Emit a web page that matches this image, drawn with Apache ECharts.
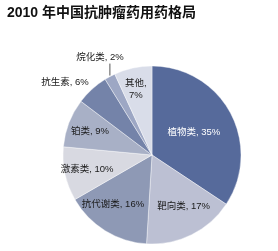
<!DOCTYPE html>
<html>
<head>
<meta charset="utf-8">
<script src="https://cdn.jsdelivr.net/npm/echarts@6/dist/echarts.min.js"></script>
<style>
  html, body { margin: 0; padding: 0; background: #fff; }
  #chart { width: 278px; height: 251px; }
</style>
</head>
<body>
<div id="chart"></div>
<script>
// 2010 年中国抗肿瘤药用药格局 (%)
const categories = ['植物类', '靶向类', '抗代谢类', '激素类', '铂类', '抗生素', '烷化类', '其他'];
const shares = [35, 17, 16, 10, 9, 6, 2, 7];

const sliceColors = ['#566a9b', '#bcc0d3', '#8e99b5', '#d8d9e1', '#a8b0c6', '#7483a9', '#9da7c4', '#d9dde9'];
const fontStack = '"Liberation Sans", Arial, "Noto Sans CJK SC", sans-serif';

const chart = echarts.init(document.getElementById('chart'));

// which labels sit where
const outsideIdx = [5, 6];   // 抗生素, 烷化类
const innerIdx = [0];        // 植物类

// small nudges of single labels (px)
const ringNudges = { 1: [2, -8], 2: [-4, -7], 7: [-2, -1] };

function mainLayout(params) {
  if (params.dataIndex === 5) {
    return { dx: 7, dy: -5 };
  }
  if (params.dataIndex === 6 && params.labelLinePoints) {
    // short vertical leader from the slice edge, label centred above it
    const p0 = params.labelLinePoints[0];
    return {
      x: p0[0] - 10,
      y: p0[1] - 19,
      align: 'center',
      verticalAlign: 'middle',
      labelLinePoints: [[p0[0], p0[1] - 1], [p0[0], p0[1] - 13]]
    };
  }
  return {};
}

function ringLayout(params) {
  const d = ringNudges[params.dataIndex];
  return d ? { dx: d[0], dy: d[1] } : {};
}

const pieData = categories.map((name, i) => {
  const item = { name: name, value: shares[i], itemStyle: { color: sliceColors[i] } };
  if (innerIdx.indexOf(i) >= 0) {
    item.label = { show: true, position: 'inside', color: '#fff' };
  } else if (i === 5) {
    item.label = { show: true, position: 'outside' };
    item.labelLine = { show: false, length: 2, length2: 4 };
  } else if (i === 6) {
    item.label = { show: true, position: 'outside' };
    item.labelLine = { show: true, length: 8, length2: 0 };
  }
  return item;
});

// transparent ring only used to place the other labels a bit further out
const ringData = categories.map((name, i) => ({
  name: name,
  value: shares[i],
  label: { show: outsideIdx.indexOf(i) < 0 && innerIdx.indexOf(i) < 0 }
}));

const option = {
  animation: false,
  title: {
    text: '2010 年中国抗肿瘤药用药格局',
    left: 2,
    top: 1,
    textStyle: { fontSize: 14, fontWeight: 'bold', color: '#111', fontFamily: fontStack }
  },
  series: [
    {
      type: 'pie',
      center: [152, 155],
      radius: 89,
      startAngle: 90,
      clockwise: true,
      avoidLabelOverlap: false,
      itemStyle: { borderColor: '#fff', borderWidth: 0.4 },
      label: {
        show: false,
        formatter: '{b}, {c}%',
        fontSize: 9.5,
        color: '#1a1a1a',
        fontFamily: fontStack
      },
      labelLine: { lineStyle: { color: '#555', width: 1 } },
      labelLayout: mainLayout,
      data: pieData
    },
    {
      type: 'pie',
      silent: true,
      center: [152, 155],
      radius: [38, 89],
      startAngle: 90,
      clockwise: true,
      avoidLabelOverlap: false,
      itemStyle: { color: 'rgba(0,0,0,0)' },
      label: {
        position: 'inside',
        formatter: function (p) {
          return p.name === '其他' ? p.name + ',\n' + p.value + '%' : p.name + ', ' + p.value + '%';
        },
        fontSize: 9.5,
        lineHeight: 12,
        color: '#1a1a1a',
        fontFamily: fontStack
      },
      labelLine: { show: false },
      labelLayout: ringLayout,
      data: ringData
    }
  ]
};

chart.setOption(option);
</script>
</body>
</html>
